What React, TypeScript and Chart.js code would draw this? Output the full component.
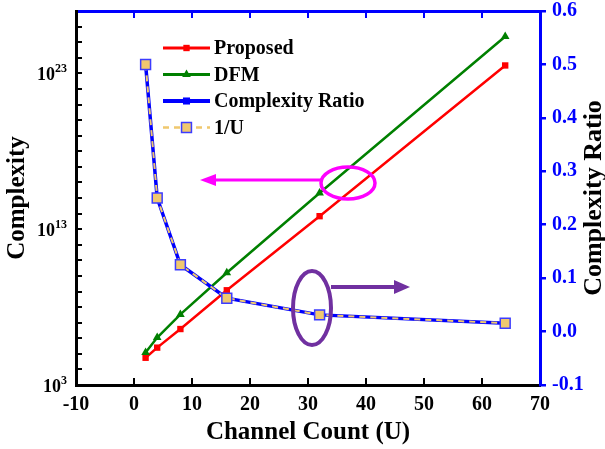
import React, { useEffect, useRef } from "react";
import { Chart, registerables } from "chart.js";

Chart.register(...registerables);

// ---------- data ----------
const channelCounts = [2, 4, 8, 16, 32, 64];
const proposedComplexity = [5.6e4, 2.5e5, 3.9e6, 1.2e9, 6.8e13, 3.2e23];
const dfmComplexity = [1.2e5, 1.1e6, 3.4e7, 1.6e10, 2.1e15, 2.3e25];
const complexityRatio = [0.5, 0.25, 0.125, 0.0625, 0.03125, 0.015625];
const inverseU = [0.5, 0.25, 0.125, 0.0625, 0.03125, 0.015625];

// ---------- axes / tick labels ----------
const xRange = [-10, 70];
const xStep = 10;
const leftRange = [1e3, 1e27];
const leftDecadeExponents = [3, 4, 5, 6, 7, 8, 9, 10, 11, 12, 13, 14, 15, 16, 17, 18, 19, 20, 21, 22, 23, 24, 25, 26, 27];
const leftLabelExponents = [3, 13, 23];
const rightRange = [-0.1, 0.6];
const rightStep = 0.1;

const xTitle = "Channel Count (U)";
const leftTitle = "Complexity";
const rightTitle = "Complexity Ratio";

const FONT = "'Liberation Serif', 'Times New Roman', serif";
const BLUE = "#0000FF";

const toPoints = (ys: number[]) => channelCounts.map((x, i) => ({ x, y: ys[i] }));

function drawMarker(ctx: CanvasRenderingContext2D, ds: any, x: number, y: number) {
  const r = ds.pointRadius;
  ctx.save();
  ctx.fillStyle = ds.pointBackgroundColor || ds.backgroundColor;
  ctx.strokeStyle = ds.pointBorderColor || ds.borderColor;
  ctx.lineWidth = ds.pointBorderWidth ?? 1;
  ctx.setLineDash([]);
  ctx.beginPath();
  if (ds.pointStyle === "triangle") {
    ctx.moveTo(x, y - r);
    ctx.lineTo(x + r * 0.866, y + r * 0.5);
    ctx.lineTo(x - r * 0.866, y + r * 0.5);
    ctx.closePath();
  } else {
    const s = r * Math.SQRT1_2;
    ctx.rect(x - s, y - s, 2 * s, 2 * s);
  }
  ctx.fill();
  if ((ds.pointBorderWidth ?? 1) > 0) ctx.stroke();
  ctx.restore();
}

function ellipse(ctx: CanvasRenderingContext2D, cx: number, cy: number, rx: number, ry: number, color: string, lw: number) {
  ctx.save();
  ctx.strokeStyle = color;
  ctx.lineWidth = lw;
  ctx.beginPath();
  ctx.ellipse(cx, cy, rx, ry, 0, 0, Math.PI * 2);
  ctx.stroke();
  ctx.restore();
}

function arrow(ctx: CanvasRenderingContext2D, x1: number, y: number, x2: number, color: string, lw: number, head: number, half: number) {
  const dir = Math.sign(x2 - x1);
  ctx.save();
  ctx.strokeStyle = color;
  ctx.fillStyle = color;
  ctx.lineWidth = lw;
  ctx.beginPath();
  ctx.moveTo(x1, y);
  ctx.lineTo(x2 - dir * head * 0.8, y);
  ctx.stroke();
  ctx.beginPath();
  ctx.moveTo(x2, y);
  ctx.lineTo(x2 - dir * head, y - half);
  ctx.lineTo(x2 - dir * head, y + half);
  ctx.closePath();
  ctx.fill();
  ctx.restore();
}

const overlayPlugin = {
  id: "overlay",
  afterDraw(chart: any) {
    const ctx: CanvasRenderingContext2D = chart.ctx;
    const area = chart.chartArea;
    const yScale = chart.scales.y;

    ctx.save();
    // left axis labels 10^n
    ctx.fillStyle = "#000";
    ctx.textBaseline = "alphabetic";
    ctx.textAlign = "left";
    for (const e of leftLabelExponents) {
      const py = yScale.getPixelForValue(Math.pow(10, e));
      const right = area.left - 9;
      ctx.font = `bold 12px ${FONT}`;
      const sup = String(e);
      const supW = ctx.measureText(sup).width;
      ctx.font = `bold 18px ${FONT}`;
      const baseW = ctx.measureText("10").width;
      ctx.fillText("10", right - supW - baseW, py + 7);
      ctx.font = `bold 12px ${FONT}`;
      ctx.fillText(sup, right - supW, py - 1);
    }

    // right title (reads bottom to top)
    ctx.save();
    ctx.translate(594, (area.top + area.bottom) / 2);
    ctx.rotate(-Math.PI / 2);
    ctx.font = `bold 26px ${FONT}`;
    ctx.textAlign = "center";
    ctx.textBaseline = "middle";
    ctx.fillStyle = "#000";
    ctx.fillText(rightTitle, 0, 0);
    ctx.restore();

    // legend
    const order = [0, 1, 2, 3];
    const rowY = [48, 74.5, 101, 127.5];
    const lx1 = 163, lx2 = 210, tx = 214;
    order.forEach((di, k) => {
      const ds = chart.data.datasets[di];
      const y = rowY[k];
      ctx.save();
      ctx.strokeStyle = ds.borderColor;
      ctx.lineWidth = ds.borderWidth + 0.5;
      ctx.setLineDash(ds.borderDash || []);
      ctx.beginPath();
      ctx.moveTo(lx1, y);
      ctx.lineTo(lx2, y);
      ctx.stroke();
      ctx.restore();
      drawMarker(ctx, ds, (lx1 + lx2) / 2, y);
      ctx.font = `bold 20px ${FONT}`;
      ctx.fillStyle = "#000";
      ctx.textAlign = "left";
      ctx.textBaseline = "middle";
      ctx.fillText(ds.label, tx, y + 1);
    });

    // annotations
    ellipse(ctx, 348, 183, 27, 16, "#FF00FF", 3.5);
    arrow(ctx, 321, 180, 200, "#FF00FF", 3, 16, 6);
    ellipse(ctx, 312, 308, 19, 37, "#7030A0", 4);
    arrow(ctx, 331, 287, 410, "#7030A0", 4, 16, 7);

    ctx.restore();
  },
};

export default function App() {
  const ref = useRef<HTMLCanvasElement | null>(null);

  useEffect(() => {
    if (!ref.current) return;
    Chart.defaults.font.family = FONT;
    const chart = new Chart(ref.current, {
      type: "line",
      data: {
        datasets: [
          {
            label: "Proposed",
            data: toPoints(proposedComplexity),
            yAxisID: "y",
            xAxisID: "x",
            borderColor: "#FF0000",
            backgroundColor: "#FF0000",
            pointBackgroundColor: "#FF0000",
            pointBorderColor: "#FF0000",
            borderWidth: 2.5,
            pointStyle: "rect",
            pointRadius: 4.5,
            pointBorderWidth: 0,
            order: 3,
          } as any,
          {
            label: "DFM",
            data: toPoints(dfmComplexity),
            yAxisID: "y",
            xAxisID: "x",
            borderColor: "#008000",
            backgroundColor: "#008000",
            pointBackgroundColor: "#008000",
            pointBorderColor: "#008000",
            borderWidth: 2.5,
            pointStyle: "triangle",
            pointRadius: 5,
            pointBorderWidth: 0,
            order: 2,
          },
          {
            label: "Complexity Ratio",
            data: toPoints(complexityRatio),
            yAxisID: "y1",
            xAxisID: "x",
            borderColor: BLUE,
            backgroundColor: BLUE,
            pointBackgroundColor: BLUE,
            pointBorderColor: BLUE,
            borderWidth: 3.5,
            pointStyle: "rect",
            pointRadius: 5,
            pointBorderWidth: 0,
            order: 1,
          },
          {
            label: "1/U",
            data: toPoints(inverseU),
            yAxisID: "y1",
            xAxisID: "x",
            borderColor: "#F0C86E",
            backgroundColor: "#F0C86E",
            pointBackgroundColor: "#F0C86E",
            pointBorderColor: "#3C3CFF",
            borderWidth: 2,
            borderDash: [6, 5],
            pointStyle: "rect",
            pointRadius: 7,
            pointBorderWidth: 1.5,
            order: 0,
          },
        ],
      },
      options: {
        responsive: false,
        animation: false,
        devicePixelRatio: 1,
        layout: { padding: 0 },
        plugins: { legend: { display: false }, tooltip: { enabled: false } },
        elements: { line: { tension: 0 } },
        scales: {
          x: {
            type: "linear",
            position: "bottom",
            min: xRange[0],
            max: xRange[1],
            ticks: {
              stepSize: xStep,
              color: "#000",
              font: { family: FONT, size: 20, weight: "bold" },
              padding: 15,
              maxRotation: 0,
              autoSkip: false,
            },
            border: { display: true, color: "#000", width: 3 },
            grid: { display: true, drawOnChartArea: false, drawTicks: true, tickLength: -7, color: "#000", lineWidth: 2 },
            title: {
              display: true,
              text: xTitle,
              color: "#000",
              font: { family: FONT, size: 25, weight: "bold" },
              padding: { top: 0, bottom: 1 },
            },
            afterFit: (s: any) => {
              s.height = 64;
              s.paddingLeft = 0;
              s.paddingRight = 0;
            },
          },
          x2: {
            type: "linear",
            position: "top",
            min: xRange[0],
            max: xRange[1],
            ticks: { stepSize: xStep, display: false },
            border: { display: true, color: BLUE, width: 3 },
            grid: { display: true, drawOnChartArea: false, drawTicks: true, tickLength: -7, color: BLUE, lineWidth: 2 },
            afterFit: (s: any) => {
              s.height = 11;
              s.paddingLeft = 0;
              s.paddingRight = 0;
            },
          },
          y: {
            type: "logarithmic",
            position: "left",
            min: leftRange[0],
            max: leftRange[1],
            afterBuildTicks: (s: any) => {
              s.ticks = leftDecadeExponents.map((e) => ({ value: Math.pow(10, e) }));
            },
            ticks: { callback: () => "", autoSkip: false },
            border: { display: true, color: "#000", width: 3 },
            grid: { display: true, drawOnChartArea: false, drawTicks: true, tickLength: -6, color: "#000", lineWidth: 2 },
            title: {
              display: true,
              text: leftTitle,
              color: "#000",
              font: { family: FONT, size: 25, weight: "bold" },
              padding: { top: 3, bottom: 0 },
            },
            afterFit: (s: any) => {
              s.width = 76;
              s.paddingTop = 0;
              s.paddingBottom = 0;
            },
          },
          y1: {
            type: "linear",
            position: "right",
            min: rightRange[0],
            max: rightRange[1],
            ticks: {
              stepSize: rightStep,
              color: BLUE,
              font: { family: FONT, size: 20, weight: "bold" },
              padding: 6,
              callback: (v: any) => (Math.abs(Number(v)) < 1e-9 ? 0 : Number(v)).toFixed(1),
            },
            border: { display: true, color: BLUE, width: 3 },
            grid: { display: true, drawOnChartArea: false, drawTicks: true, tickLength: 6, color: BLUE, lineWidth: 2.5 },
            afterFit: (s: any) => {
              s.width = 65;
              s.paddingTop = 0;
              s.paddingBottom = 0;
            },
          },
        },
      } as any,
      plugins: [overlayPlugin],
    });
    return () => chart.destroy();
  }, []);

  return (
    <div style={{ position: "fixed", left: 0, top: 0, width: 605, height: 449, background: "#fff" }}>
      <canvas ref={ref} width={605} height={449} style={{ display: "block" }} />
    </div>
  );
}
